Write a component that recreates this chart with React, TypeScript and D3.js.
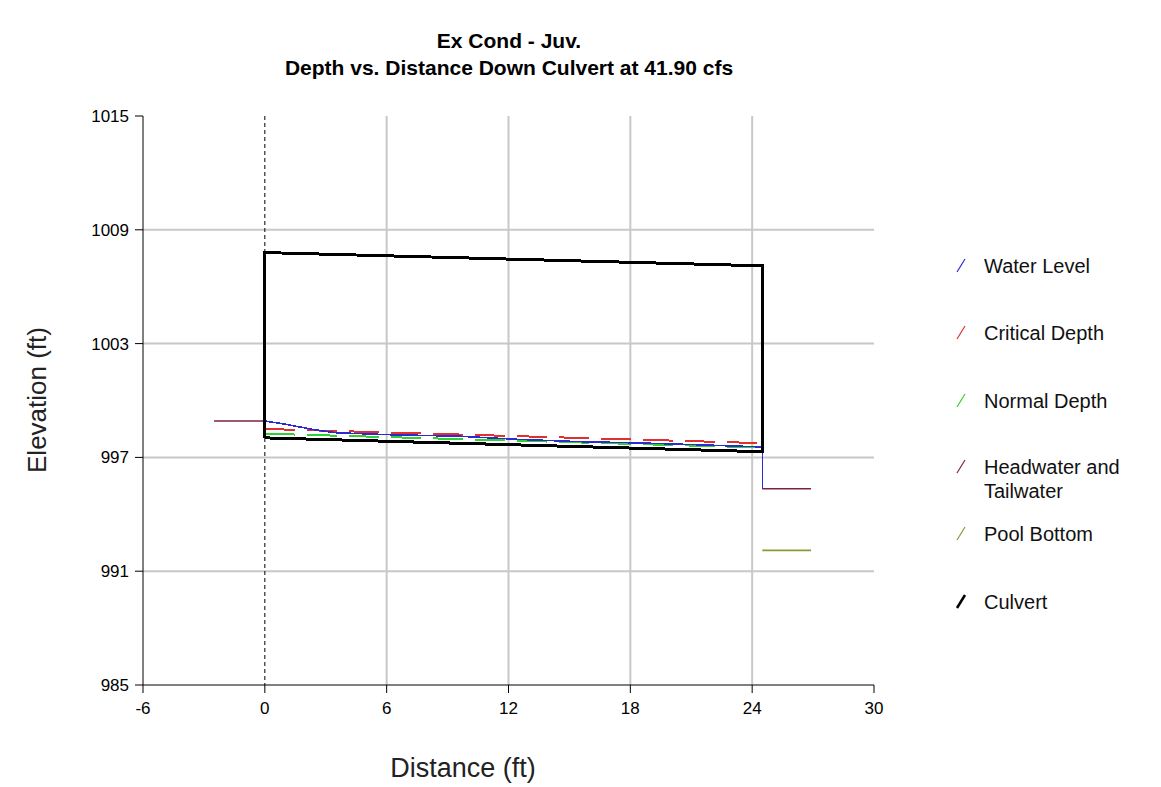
import React from "react";
import * as d3 from "d3";

const titleLines = ["Ex Cond - Juv.", "Depth vs. Distance Down Culvert at 41.90 cfs"];
const xTicks = [-6, 0, 6, 12, 18, 24, 30];
const yTicks = [985, 991, 997, 1003, 1009, 1015];

// Water level profile (ft, elevation)
const waterDist = [0, 1, 2.5, 3.5, 6, 9.5, 12.5, 15.5, 18.5, 21.5, 24.5, 24.5];
const waterElev = [998.92, 998.75, 998.45, 998.3, 998.2, 998.12, 997.95, 997.83, 997.76, 997.66, 997.55, 995.35];

const criticalDist = [0, 24.5];
const criticalElev = [998.5, 997.75];

const normalDist = [0, 24.5];
const normalElev = [998.25, 997.52];

const headDist = [-2.5, 0];
const headElev = [998.92, 998.92];
const tailDist = [24.5, 26.9];
const tailElev = [995.35, 995.35];

const poolDist = [24.5, 26.9];
const poolElev = [992.1, 992.1];

const culvertDist = [0, 0, 24.5, 24.5, 0];
const culvertElev = [998.03, 1007.8, 1007.1, 997.3, 998.03];

const legendItems = [
  { label: ["Water Level"], color: "#2b2bd0", w: 1.2 },
  { label: ["Critical Depth"], color: "#e03030", w: 1.2 },
  { label: ["Normal Depth"], color: "#30d030", w: 1.2 },
  { label: ["Headwater and", "Tailwater"], color: "#802040", w: 1.2 },
  { label: ["Pool Bottom"], color: "#8a9a30", w: 1.2 },
  { label: ["Culvert"], color: "#000000", w: 2.5 },
];
const legendY = [266, 333, 401, 467, 534, 602];

export default function App() {
  const x = d3.scaleLinear().domain([-6, 30]).range([143, 874]);
  const y = d3.scaleLinear().domain([985, 1015]).range([685, 116]);
  const mk = (xs: number[], ys: number[]) =>
    d3.line<number>().x((_, i) => x(xs[i])).y((_, i) => y(ys[i]))(xs) || "";
  const font = "'Liberation Sans', Arial, sans-serif";

  return (
    <svg width={1161} height={787} style={{ position: "absolute", left: 0, top: 0, background: "#fff" }} fontFamily={font}>
      <rect x={0} y={0} width={1161} height={787} fill="#fff" />
      {/* title */}
      {titleLines.map((t, i) => (
        <text key={t} x={509} y={48 + i * 27} textAnchor="middle" fontWeight="bold" fontSize={21} fill="#000">
          {t}
        </text>
      ))}
      {/* grid */}
      {xTicks.filter((t) => t > 0 && t < 30).map((t) => (
        <line key={"gx" + t} x1={x(t)} x2={x(t)} y1={y(1015)} y2={y(985)} stroke="#c8c8c8" strokeWidth={2} />
      ))}
      {yTicks.filter((t) => t > 985 && t < 1015).map((t) => (
        <line key={"gy" + t} x1={x(-6)} x2={x(30)} y1={y(t)} y2={y(t)} stroke="#c8c8c8" strokeWidth={2} />
      ))}
      {/* axes */}
      <line x1={x(-6)} x2={x(-6)} y1={y(1015)} y2={y(985)} stroke="#000" strokeWidth={1} />
      <line x1={x(-6)} x2={x(30)} y1={y(985)} y2={y(985)} stroke="#000" strokeWidth={1} />
      {yTicks.map((t) => (
        <g key={"ty" + t}>
          <line x1={x(-6) - 8} x2={x(-6)} y1={y(t)} y2={y(t)} stroke="#000" />
          <text x={x(-6) - 14} y={y(t) + 6} textAnchor="end" fontSize={17} fill="#000">{t}</text>
        </g>
      ))}
      {xTicks.map((t) => (
        <g key={"tx" + t}>
          <line x1={x(t)} x2={x(t)} y1={y(985)} y2={y(985) + 8} stroke="#000" />
          <text x={x(t)} y={y(985) + 29} textAnchor="middle" fontSize={17} fill="#000">{t}</text>
        </g>
      ))}
      <text x={463} y={777} textAnchor="middle" fontSize={27} fill="#222">Distance (ft)</text>
      <text transform={`translate(46,400) rotate(-90)`} textAnchor="middle" fontSize={26} fill="#222">Elevation (ft)</text>
      {/* inlet dashed line */}
      <line x1={x(0)} x2={x(0)} y1={y(1015)} y2={y(985)} stroke="#000" strokeWidth={1} strokeDasharray="4,3" />
      {/* series */}
      <path d={mk(normalDist, normalElev)} fill="none" stroke="#30d030" strokeWidth={2} strokeDasharray="30,12" shapeRendering="crispEdges" />
      <path d={mk(criticalDist, criticalElev)} fill="none" stroke="#e03030" strokeWidth={2} strokeDasharray="30,12" shapeRendering="crispEdges" />
      <path d={mk(waterDist, waterElev)} fill="none" stroke="#2b2bd0" strokeWidth={1.6} shapeRendering="crispEdges" />
      <path d={mk(headDist, headElev)} fill="none" stroke="#802040" strokeWidth={1.6} />
      <path d={mk(tailDist, tailElev)} fill="none" stroke="#802040" strokeWidth={1.6} />
      <path d={mk(poolDist, poolElev)} fill="none" stroke="#8a9a30" strokeWidth={1.6} />
      <path d={mk(culvertDist, culvertElev)} fill="none" stroke="#000" strokeWidth={3} strokeLinejoin="miter" shapeRendering="crispEdges" />
      {/* legend */}
      {legendItems.map((it, i) => (
        <g key={it.label[0]}>
          <line x1={957} x2={965} y1={legendY[i] + 6} y2={legendY[i] - 7} stroke={it.color} strokeWidth={it.w} />
          {it.label.map((l, j) => (
            <text key={l} x={984} y={legendY[i] + 7 + j * 24} fontSize={20} fill="#111">{l}</text>
          ))}
        </g>
      ))}
    </svg>
  );
}
